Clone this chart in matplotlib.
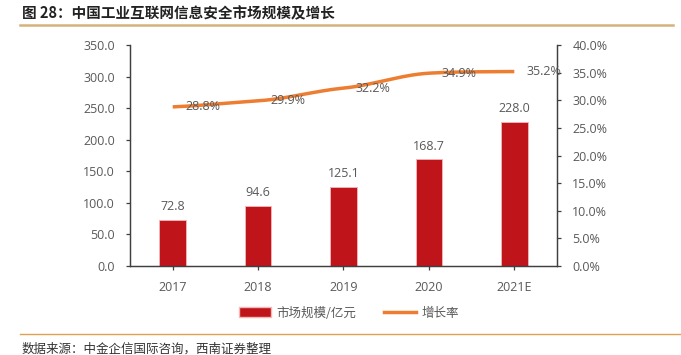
import matplotlib
matplotlib.use('Agg')
import matplotlib.pyplot as plt
from matplotlib.lines import Line2D
from matplotlib.patches import Patch
import numpy as np

plt.rcParams['font.family'] = ['Open Sans', 'Noto Sans CJK SC', 'DejaVu Sans']

years = ['2017', '2018', '2019', '2020', '2021E']
market = [72.8, 94.6, 125.1, 168.7, 228.0]
growth = [28.8, 29.9, 32.2, 34.9, 35.2]

title = '图 28：中国工业互联网信息安全市场规模及增长'
source = '数据来源：中金企信国际咨询，西南证券整理'

gray = '#595959'
bar_color = '#C0141B'
line_color = '#ED7D31'
gold = '#D4B27A'

fig = plt.figure(figsize=(6.81, 3.55), dpi=100)
ax = fig.add_axes([0.1909, 0.2507, 0.627, 0.6225])
ax2 = ax.twinx()

x = np.arange(len(years))
ax.bar(x, market, width=0.31, color=bar_color, edgecolor='#F2B8B8', linewidth=0.6, zorder=2)
for xi, v in zip(x, market):
    ax.annotate(f'{v:.1f}', (xi, v), xytext=(0, 5), textcoords='offset points',
                ha='center', va='bottom', fontsize=9, color=gray)

ax.set_xlim(-0.5, 4.5)
ax.set_ylim(0, 350)
ax.set_yticks(np.arange(0, 351, 50))
ax.set_yticklabels([f'{v:.1f}' for v in np.arange(0, 351, 50)])
ax.set_xticks(x)
ax.set_xticklabels(years)

# smooth line through growth points (hermite-ish, like excel smoothing)
xs = np.linspace(0, len(x) - 1, 200)
g = np.array(growth)
m = np.zeros_like(g)
m[1:-1] = (g[2:] - g[:-2]) / 2
m[0] = g[1] - g[0]
m[-1] = g[-1] - g[-2]
ys = []
for t in xs:
    i = min(int(t), len(g) - 2)
    s = t - i
    h00 = 2*s**3 - 3*s**2 + 1
    h10 = s**3 - 2*s**2 + s
    h01 = -2*s**3 + 3*s**2
    h11 = s**3 - s**2
    ys.append(h00*g[i] + h10*m[i]*0.6 + h01*g[i+1] + h11*m[i+1]*0.6)
ax2.plot(xs, ys, color=line_color, linewidth=2.5, solid_capstyle='butt', zorder=3)
for xi, v in zip(x, growth):
    ax2.annotate(f'{v:.1f}%', (xi, v), xytext=(9, 0), textcoords='offset points',
                 ha='left', va='center', fontsize=9, color=gray)
ax2.set_ylim(0, 40)
ax2.set_yticks(np.arange(0, 41, 5))
ax2.set_yticklabels([f'{v:.1f}%' for v in np.arange(0, 41, 5)])

for a in (ax, ax2):
    a.spines['top'].set_visible(False)
    for s in a.spines.values():
        s.set_color('#404040')
        s.set_linewidth(0.9)
    a.tick_params(colors='#404040', labelcolor=gray, labelsize=9, length=3, width=0.9)
ax.tick_params(axis='y', pad=8)
ax2.tick_params(axis='y', pad=8)
ax.tick_params(axis='x', pad=8)

handles = [Patch(facecolor=bar_color, edgecolor='#F2B8B8'),
           Line2D([0], [0], color=line_color, linewidth=2.5)]
fig.legend(handles, ['市场规模/亿元', '增长率'], loc='center', bbox_to_anchor=(0.512, 0.118),
           ncol=2, frameon=False, handlelength=2.6, handleheight=0.8,
           columnspacing=2.2, handletextpad=0.4, labelcolor=gray,
           prop={'family': ['Noto Sans CJK SC'], 'size': 9})

fig.text(0.032, 0.963, title, fontsize=10.5, fontweight='bold', color='#222222',
         ha='left', va='center', family=['Noto Sans CJK SC', 'DejaVu Sans'])
fig.add_artist(Line2D([0.029, 0.988], [0.929, 0.929], color=gold, linewidth=1.8))
fig.add_artist(Line2D([0.029, 0.998], [0.059, 0.059], color='#E0A050', linewidth=1.0))
fig.text(0.032, 0.017, source, fontsize=9, color='#333333', ha='left', va='center',
         family=['Noto Sans CJK SC'], style='italic')

fig.savefig('out.png', dpi=100)
